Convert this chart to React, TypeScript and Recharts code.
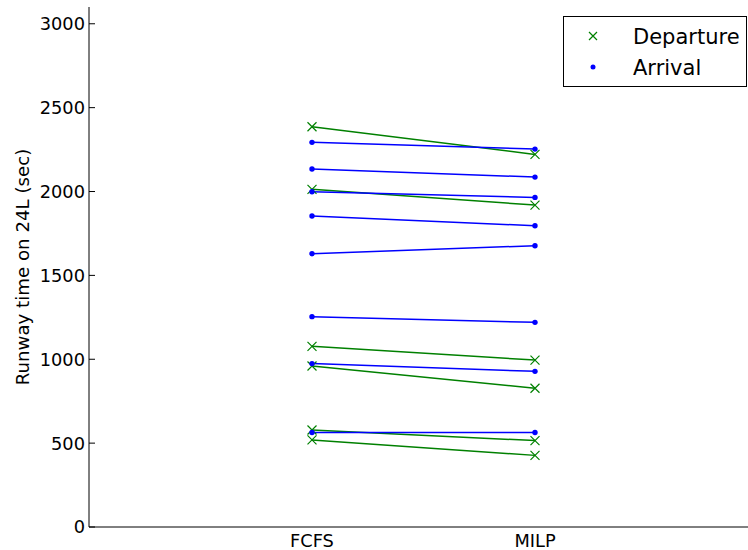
import React from "react";
import { LineChart, Line, XAxis, YAxis, Legend } from "recharts";

const categories = ["FCFS", "MILP"];
const departureFCFS = [2386, 2013, 1077, 960, 578, 519];
const departureMILP = [2221, 1919, 995, 827, 515, 427];
const arrivalFCFS = [2293, 2134, 1999, 1854, 1629, 1254, 974, 563];
const arrivalMILP = [2253, 2086, 1965, 1796, 1677, 1220, 928, 563];
const yTicks = [0, 500, 1000, 1500, 2000, 2500, 3000];

const GREEN = "#008000";
const BLUE = "#0000ff";
const FONT = "'DejaVu Sans', sans-serif";

const data = categories.map((_, i) => {
  const row: Record<string, number> = { x: i + 1 };
  departureFCFS.forEach((v, j) => (row["d" + j] = i === 0 ? v : departureMILP[j]));
  arrivalFCFS.forEach((v, j) => (row["a" + j] = i === 0 ? v : arrivalMILP[j]));
  return row;
});

function XMark({ cx, cy, size = 9, color = GREEN }: { cx: number; cy: number; size?: number; color?: string }) {
  const h = size / 2;
  return (
    <path
      d={`M${cx - h},${cy - h}L${cx + h},${cy + h}M${cx - h},${cy + h}L${cx + h},${cy - h}`}
      stroke={color}
      strokeWidth={1.2}
      fill="none"
    />
  );
}

function YTick(props: any) {
  const { x, y, payload } = props;
  return (
    <g>
      <line x1={x + 4} x2={x + 10} y1={y} y2={y} stroke="#000" strokeWidth={1} />
      <text x={x} y={y} dy="0.36em" textAnchor="end" fontSize={17.8} fontFamily={FONT} fill="#000">
        {payload.value}
      </text>
    </g>
  );
}

function LegendBox() {
  return (
    <svg width={184} height={72} style={{ display: "block" }}>
      <rect x={0.5} y={0.5} width={183} height={70} fill="#fff" stroke="#000" strokeWidth={1} />
      <XMark cx={30} cy={20} size={8} />
      <circle cx={30} cy={51} r={2.5} fill={BLUE} />
      <text x={70} y={28} fontSize={21} fontFamily={FONT} fill="#000">
        Departure
      </text>
      <text x={70} y={59} fontSize={21} fontFamily={FONT} fill="#000">
        Arrival
      </text>
    </svg>
  );
}

export default function App() {
  return (
    <div
      style={{
        position: "absolute",
        left: 0,
        top: 0,
        width: 748,
        height: 550,
        overflow: "hidden",
        background: "#fff",
      }}
    >
      <LineChart width={770} height={550} data={data} margin={{ top: 7, right: 12, bottom: 0, left: 0 }}>
        <XAxis
          dataKey="x"
          type="number"
          domain={[0, 3]}
          ticks={[1, 2]}
          tickFormatter={(v: number) => categories[v - 1]}
          tickLine={false}
          tickSize={0}
          tickMargin={7}
          height={23}
          axisLine={{ stroke: "#000" }}
          tick={{ fontSize: 17.8, fontFamily: FONT, fill: "#000" }}
        />
        <XAxis
          xAxisId="top"
          orientation="top"
          type="number"
          domain={[0, 3]}
          tick={false}
          tickLine={false}
          height={0}
          axisLine={{ stroke: "#000" }}
        />
        <YAxis
          type="number"
          domain={[0, 3100]}
          ticks={yTicks}
          interval={0}
          width={89}
          tickSize={0}
          tickMargin={4}
          tickLine={false}
          axisLine={{ stroke: "#000" }}
          tick={<YTick />}
          label={{
            content: () => (
              <text
                x={29}
                y={267}
                transform="rotate(-90 29 267)"
                textAnchor="middle"
                fontSize={18.2}
                fontFamily={FONT}
                fill="#000"
              >
                Runway time on 24L (sec)
              </text>
            ),
          }}
        />
        <Legend
          layout="vertical"
          align="center"
          verticalAlign="middle"
          content={() => <LegendBox />}
          wrapperStyle={{ position: "absolute", left: 563, top: 16, width: 184, height: 72 }}
        />
        {departureFCFS.map((_, j) => (
          <Line
            key={"d" + j}
            dataKey={"d" + j}
            stroke={GREEN}
            strokeWidth={1.5}
            isAnimationActive={false}
            dot={(p: any) => <XMark key={"dm" + j + "-" + p.index} cx={p.cx} cy={p.cy} />}
            activeDot={false}
          />
        ))}
        {arrivalFCFS.map((_, j) => (
          <Line
            key={"a" + j}
            dataKey={"a" + j}
            stroke={BLUE}
            strokeWidth={1.5}
            isAnimationActive={false}
            dot={{ r: 2.7, fill: BLUE, stroke: BLUE, strokeWidth: 0 }}
            activeDot={false}
          />
        ))}
      </LineChart>
    </div>
  );
}
